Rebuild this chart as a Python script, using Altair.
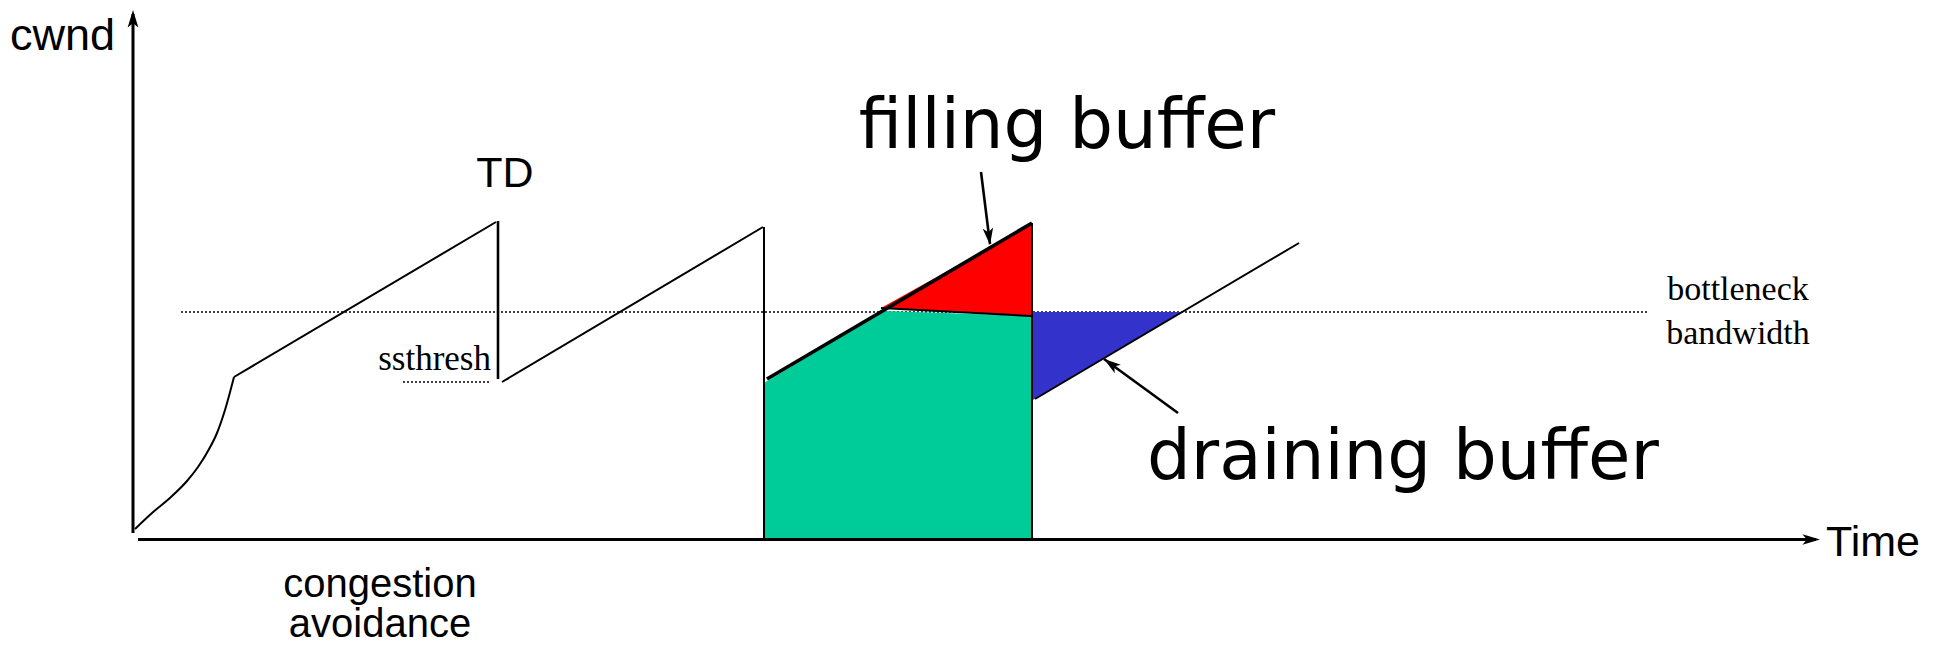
import altair as alt
import pandas as pd

# ---- plot geometry (data units: time / cwnd) ----
W, H = 1936, 638
X_DOMAIN = [-12.5, 181.1]
Y_DOMAIN = [-10.7, 53.1]

# ---- slow start curve ----
slow_t = [0.2, 1.9, 3.8, 5.4, 6.5, 7.5, 8.4, 9.2, 10.1]
slow_c = [1.0, 2.6, 4.2, 5.8, 7.2, 8.8, 10.6, 12.9, 16.2]

# ---- thin saw-tooth / outline segments ----
thin_seg = ["A", "A", "B", "B", "C", "C", "D", "D", "F", "F", "G", "G", "H", "H"]
thin_t = [10.1, 36.3, 36.5, 36.5, 36.9, 63.0, 63.1, 63.1, 90.2, 116.6, 89.9, 89.9, 74.8, 89.8]
thin_c = [16.2, 31.7, 31.8, 16.0, 15.7, 31.2, 31.2, 0.0, 14.0, 29.6, 31.6, 0.0, 23.1, 22.3]
thin_w = [2, 2, 2.6, 2.6, 2, 2, 2, 2, 2, 2, 2, 2, 2, 2]

# ---- thick cwnd line over the buffer region ----
thick_t = [63.4, 89.9]
thick_c = [16.0, 31.6]

# ---- axes ----
axis_seg = ["y", "y", "x", "x"]
axis_t = [0.0, 0.0, 0.5, 168.3]
axis_c = [0.6, 52.5, -0.05, -0.05]

# ---- dotted lines: bottleneck bandwidth, ssthresh ----
dot_seg = ["bw", "bw", "ss", "ss"]
dot_t = [4.8, 151.4, 27.0, 35.7]
dot_c = [22.7, 22.7, 15.7, 15.7]

# ---- filled regions ----
green_t = [63.1, 75.1, 89.9]
green_top = [15.6, 22.8, 22.3]
green_bot = [0.0, 0.0, 0.0]

red_t = [74.8, 89.9]
red_top = [23.1, 31.5]
red_bot = [23.1, 22.3]

blue_t = [89.8, 104.9]
blue_top = [22.7, 22.7]
blue_bot = [13.8, 22.7]

# ---- annotation arrows ----
arrow_seg = ["fill", "fill", "drain", "drain"]
arrow_t = [84.8, 85.7, 104.5, 97.1]
arrow_c = [36.7, 29.5, 12.6, 18.0]

head_t = [0.0, 168.7, 85.7, 97.1]
head_c = [52.9, -0.05, 29.4, 18.0]
head_angle = [0, 90, 173, 306]
head_size = [380, 380, 360, 360]

# ---- labels ----
cwnd_text = ["cwnd"]
cwnd_t = [-12.3]
cwnd_c = [48.9]

time_text = ["Time"]
time_t = [169.3]
time_c = [-1.7]

td_text = ["TD"]
td_t = [37.2]
td_c = [35.2]

ca_text = ["congestion", "avoidance"]
ca_t = [24.7, 24.7]
ca_c = [-5.8, -9.8]

serif_right_text = ["ssthresh"]
serif_right_t = [35.8]
serif_right_c = [16.9]

serif_center_text = ["bottleneck", "bandwidth"]
serif_center_t = [160.5, 160.5]
serif_center_c = [23.9, 19.5]

comic_text = ["filling buffer", "draining buffer"]
comic_t = [93.4, 127.0]
comic_c = [39.1, 6.0]

xs = alt.Scale(domain=X_DOMAIN, nice=False, zero=False)
ys = alt.Scale(domain=Y_DOMAIN, nice=False, zero=False)
X = alt.X("t:Q", scale=xs, axis=None)
Y = alt.Y("c:Q", scale=ys, axis=None)


def seg_df(seg, t, c, **extra):
    d = pd.DataFrame({"seg": seg, "t": t, "c": c})
    d["o"] = list(range(len(seg)))
    for k, v in extra.items():
        d[k] = v
    return d


dotted = alt.Chart(seg_df(dot_seg, dot_t, dot_c)).mark_line(
    color="black", strokeWidth=1.6, strokeDash=[2, 2]
).encode(x=X, y=Y, detail="seg:N", order="o:Q")


def area_layer(t, top, bot, color):
    d = pd.DataFrame({"t": t, "c": top, "c2": bot})
    return alt.Chart(d).mark_area(color=color, opacity=1).encode(
        x=X, y=Y, y2="c2:Q"
    )


green = area_layer(green_t, green_top, green_bot, "#00CC99")
red = area_layer(red_t, red_top, red_bot, "#FF0000")
blue = area_layer(blue_t, blue_top, blue_bot, "#3333CC")

slow = alt.Chart(pd.DataFrame({"t": slow_t, "c": slow_c})).mark_line(
    color="black", strokeWidth=2, interpolate="monotone"
).encode(x=X, y=Y)

thin = alt.Chart(seg_df(thin_seg, thin_t, thin_c, w=thin_w)).mark_line(
    color="black"
).encode(x=X, y=Y, detail="seg:N", order="o:Q",
         strokeWidth=alt.StrokeWidth("w:Q", scale=None))

thick = alt.Chart(pd.DataFrame({"t": thick_t, "c": thick_c})).mark_line(
    color="black", strokeWidth=3.6
).encode(x=X, y=Y)

axes = alt.Chart(seg_df(axis_seg, axis_t, axis_c)).mark_line(
    color="black", strokeWidth=3
).encode(x=X, y=Y, detail="seg:N", order="o:Q")

arrows = alt.Chart(seg_df(arrow_seg, arrow_t, arrow_c)).mark_line(
    color="black", strokeWidth=2.6
).encode(x=X, y=Y, detail="seg:N", order="o:Q")

heads = alt.Chart(pd.DataFrame({"t": head_t, "c": head_c, "a": head_angle, "s": head_size})).mark_point(
    shape="M0,0L0.55,1.8L0,1.35L-0.55,1.8Z", filled=True, color="black", opacity=1, strokeWidth=0
).encode(x=X, y=Y, angle=alt.Angle("a:Q", scale=None), size=alt.Size("s:Q", scale=None))


def text_layer(text, t, c, font, size, align):
    d = pd.DataFrame({"label": text, "t": t, "c": c})
    return alt.Chart(d).mark_text(
        font=font, fontSize=size, align=align, baseline="alphabetic", color="black"
    ).encode(x=X, y=Y, text="label:N")


cwnd_l = text_layer(cwnd_text, cwnd_t, cwnd_c, "Liberation Sans", 45, "left")
time_l = text_layer(time_text, time_t, time_c, "Liberation Sans", 43, "left")
td_l = text_layer(td_text, td_t, td_c, "Liberation Sans", 43, "center")
ca_l = text_layer(ca_text, ca_t, ca_c, "Liberation Sans", 40, "center")
serif_r = text_layer(serif_right_text, serif_right_t, serif_right_c, "Liberation Serif", 35, "right")
serif_c = text_layer(serif_center_text, serif_center_t, serif_center_c, "Liberation Serif", 34, "center")
comic = text_layer(comic_text, comic_t, comic_c, "Comic Sans MS, DejaVu Sans", 69, "center")

chart = alt.layer(
    dotted, green, red, blue, slow, thin, thick, axes, arrows, heads,
    cwnd_l, time_l, td_l, ca_l, serif_r, serif_c, comic
).properties(
    width=W, height=H, padding=0, autosize=alt.AutoSizeParams(type="none")
).configure(background="white").configure_view(stroke=None)

chart.save("out.html", embed_options={"renderer": "svg", "actions": False})
